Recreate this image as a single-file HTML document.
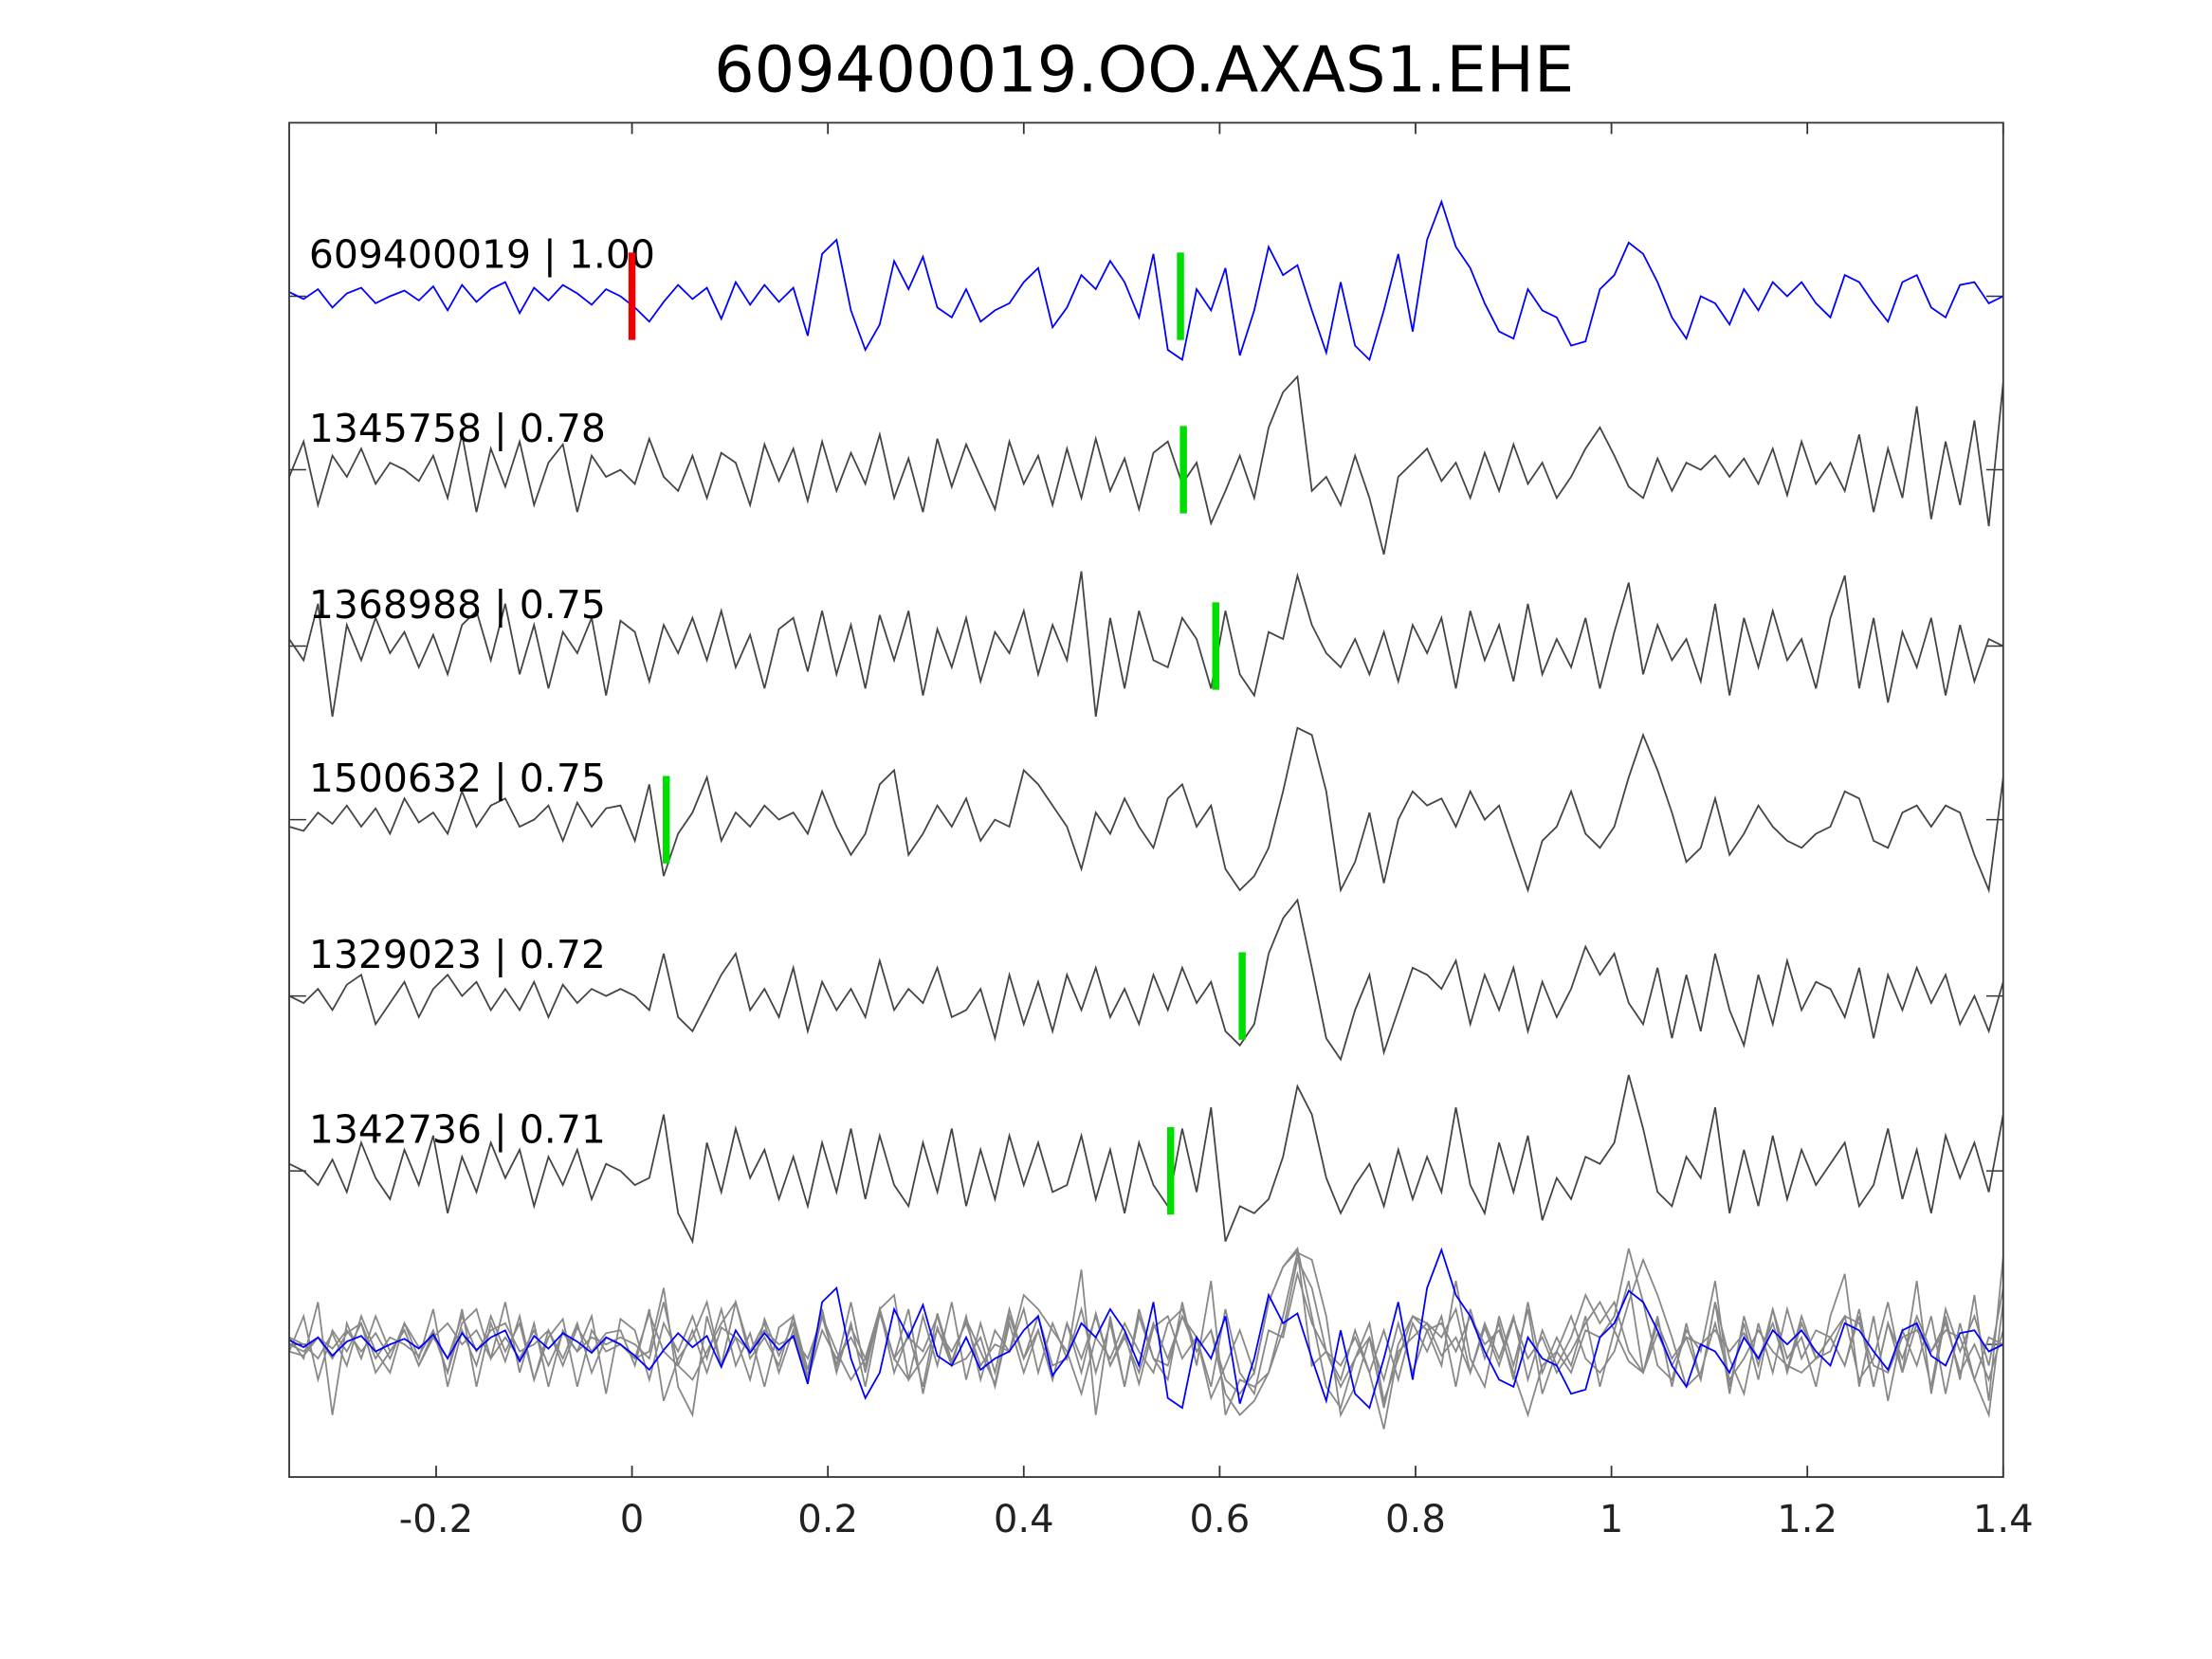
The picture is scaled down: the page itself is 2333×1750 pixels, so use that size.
<!DOCTYPE html>
<html><head><meta charset="utf-8"><style>
html,body{margin:0;padding:0;background:#fff;}
svg{display:block;font-family:"DejaVu Sans","Liberation Sans",sans-serif;}
</style></head><body>
<svg id="chart" width="2333" height="1750" viewBox="0 0 1568 1176" preserveAspectRatio="none" xmlns="http://www.w3.org/2000/svg">
<rect x="0" y="0" width="1568" height="1176" fill="#fff"/>
<text x="811" y="65" font-size="45" text-anchor="middle" fill="#000">609400019.OO.AXAS1.EHE</text>
<g id="plot"></g>
<rect x="205" y="87" width="1215" height="960" fill="none" stroke="#333" stroke-width="1.2"/>
</svg>
<script>
const xTicks=[-0.2,0,0.2,0.4,0.6,0.8,1,1.2,1.4];
const xTickLabels=["-0.2","0","0.2","0.4","0.6","0.8","1","1.2","1.4"];
const traceNames=["609400019 | 1.00","1345758 | 0.78","1368988 | 0.75","1500632 | 0.75","1329023 | 0.72","1342736 | 0.71"];
const pickTimes=[0.56,0.563,0.596,0.035,0.623,0.55];
const refPickTime=0.0;
const t1=[3,-2,5,-8,2,6,-5,0,4,-3,7,-10,8,-4,5,10,-12,6,-3,8,2,-6,5,0,
-8,-18,-4,8,-2,6,-16,10,-6,8,-4,6,-28,30,
40,-10,-38,-20,25,5,28,-8,-15,5,-18,-10,-5,10,
20,-22,-8,15,5,25,10,-15,30,-38,-45,5,-10,20,
-42,-10,35,15,22,-10,-40,10,-35,-45,-10,30,-25,40,
67,35,20,-5,-25,-30,5,-10,-15,-35,-32,5,15,38,
30,10,-15,-30,0,-5,-20,5,-10,10,0,10,-5,-15,
15,10,-5,-18,10,15,-8,-15,8,10,-5,0];
const t2=[-5,20,-25,10,-5,15,-10,5,0,-8,10,-20,25,-30,15,-12,20,-25,5,18,-30,10,-5,0,
-10,22,-5,-15,10,-20,12,5,-25,18,-8,15,-22,20,
-15,12,-10,25,-20,8,-30,22,-12,18,-5,-28,20,-10,
10,-25,15,-20,22,-15,8,-28,12,20,-10,5,-38,-15,
10,-20,30,55,66,-15,-5,-25,10,-20,-60,-5,5,15,
-8,5,-20,12,-15,18,-10,5,-20,-5,15,30,10,-12,
-20,8,-15,5,0,10,-5,8,-10,15,-18,20,-10,5,
-15,25,-30,15,-20,45,-35,20,-25,35,-40,62];
const t3=[5,-10,30,-50,15,-10,20,-5,10,-15,8,-20,15,25,-10,30,-20,15,-30,10,-5,20,-35,18,
10,-25,15,-5,20,-10,25,-15,8,-30,12,20,-18,25,
-20,15,-30,22,-10,25,-35,12,-15,20,-25,10,-5,25,
-20,15,-10,53,-50,20,-30,25,-10,-15,20,5,-30,25,
-20,-35,10,5,50,15,-5,-15,5,-20,10,-25,15,-5,
20,-30,25,-10,15,-25,30,-20,5,-15,20,-30,10,45,
-20,15,-10,5,-25,30,-35,20,-15,25,-10,5,-30,20,
50,-30,20,-40,10,-15,20,-35,15,-25,5,0];
const t4=[-5,-8,5,-3,10,-5,8,-10,15,-2,5,-10,20,-5,10,15,-5,0,10,-15,12,-5,8,10,
-15,25,-40,-10,5,30,-15,5,-5,10,0,5,-10,20,
-5,-25,-10,25,35,-25,-10,10,-5,15,-15,0,-5,35,
25,10,-5,-35,5,-10,15,-5,-20,15,25,-5,10,-35,
-50,-40,-20,20,65,60,20,-50,-30,5,-45,0,20,10,
15,-5,20,0,10,-20,-50,-15,-5,20,-10,-20,-5,30,
60,35,5,-30,-20,15,-25,-10,10,-5,-15,-20,-10,-5,
20,15,-15,-20,5,10,-5,10,5,-25,-50,30];
const t5=[0,-5,5,-10,8,15,-20,-5,10,-15,5,15,0,10,-10,5,-10,10,-15,8,-5,5,0,5,
0,-10,30,-15,-25,-5,15,30,-10,5,-15,20,-25,10,
-10,5,-15,25,-10,5,-5,20,-15,-10,5,-30,15,-20,
10,-25,15,-10,20,-15,5,-20,15,-10,20,-5,10,-25,
-35,-20,30,55,68,20,-30,-45,-10,15,-40,-10,20,15,
5,25,-20,15,-10,20,-25,10,-15,5,35,15,30,-5,
-20,20,-30,15,-25,30,-10,-35,15,-20,25,-10,10,5,
-15,20,-30,15,-10,20,-5,15,-20,0,-25,10];
const t6=[5,0,-10,8,-15,20,-5,-20,15,-10,25,-30,10,-15,20,-5,15,-25,10,-10,15,-20,5,0,
-10,-5,40,-30,-50,20,-15,30,-5,15,-20,10,-25,20,
-15,30,-20,25,-10,-25,20,-15,30,-25,15,-20,25,-10,
20,-15,-10,25,-20,15,-30,20,-10,-25,30,-15,45,-50,
-25,-30,-20,10,60,40,-5,-30,-10,5,-25,15,-20,10,
-15,45,-10,-30,20,-15,25,-35,-5,-20,10,5,20,68,
30,-15,-25,10,-5,45,-30,15,-25,25,-20,15,-10,5,
20,-25,-10,30,-20,15,-30,25,-5,20,-15,40];
const traces=[t1,t2,t3,t4,t5,t6];

const X0=205,X1=1420,TMIN=-0.35,TMAX=1.4;
const baselines=[210,333,458,581,706,830];
const overlayBase=953;
function xs(t){return X0+(t-TMIN)/(TMAX-TMIN)*(X1-X0);}
function ys(v,base){return base-v;}
function tAt(i,n){return TMIN+i*(TMAX-TMIN)/(n-1);}
const NS="http://www.w3.org/2000/svg";
const g=document.getElementById('plot');
function mk(tag,attrs){const e=document.createElementNS(NS,tag);for(const k in attrs)e.setAttribute(k,attrs[k]);g.appendChild(e);return e;}
function pathFor(arr,base){return arr.map((v,i)=>(i?'L':'M')+xs(tAt(i,arr.length)).toFixed(2)+','+ys(v,base).toFixed(2)).join(' ');}

xTicks.forEach((t,i)=>{
  const tb=mk('line',{x1:xs(t),x2:xs(t),y1:1047,y2:1039,stroke:'#333','stroke-width':1.2});
  
  
  const tt=mk('line',{x1:xs(t),x2:xs(t),y1:87,y2:95,stroke:'#333','stroke-width':1.2});
  
  
  const lb=mk('text',{x:xs(t),y:1086,'font-size':27,'text-anchor':'middle',fill:'#222'});
  lb.textContent=xTickLabels[i];
  
  
});
baselines.concat([overlayBase]).forEach(b=>{
  const l1=mk('line',{x1:205,x2:217,y1:b,y2:b,stroke:'#333','stroke-width':1});
  
  
  const l2=mk('line',{x1:1408,x2:1420,y1:b,y2:b,stroke:'#333','stroke-width':1});
  
  
});
for(let k=1;k<traces.length;k++){
  const p=mk('path',{d:pathFor(traces[k],overlayBase),fill:'none',stroke:'#888','stroke-width':1.2});
  
  
}
const ob=mk('path',{d:pathFor(traces[0],overlayBase),fill:'none',stroke:'#0000ff','stroke-width':1.2});


traces.forEach((arr,k)=>{
  const p=mk('path',{d:pathFor(arr,baselines[k]),fill:'none',stroke:k===0?'#0000ff':'#444','stroke-width':1.2});
  
  
  const lb=mk('text',{x:219,y:baselines[k]-20,'font-size':27.5,fill:'#000'});
  lb.textContent=traceNames[k];
  
  
  const pk=mk('line',{x1:xs(pickTimes[k]),x2:xs(pickTimes[k]),y1:baselines[k]-31,y2:baselines[k]+31,stroke:'#00dd00','stroke-width':5});
  
  
});
const rp=mk('line',{x1:xs(refPickTime),x2:xs(refPickTime),y1:baselines[0]-31,y2:baselines[0]+31,stroke:'#ee0000','stroke-width':5});


</script>
</body></html>
